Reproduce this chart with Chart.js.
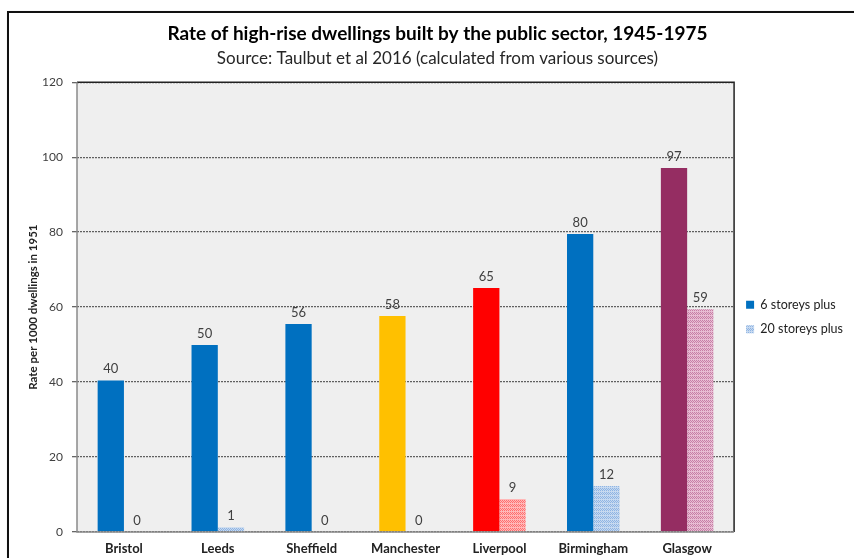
<!DOCTYPE html>
<html>
<head>
<meta charset="utf-8">
<script src="https://cdn.jsdelivr.net/npm/chart.js@4.4.0/dist/chart.umd.min.js"></script>
<style>
  html, body { margin: 0; padding: 0; background: #fff; }
  #wrap { position: relative; width: 854px; height: 558px; overflow: hidden; }
  #frame { position: absolute; left: 7px; top: 11px; width: 900px; height: 600px;
           border: 2px solid #111; box-shadow: 1px 1px 2px rgba(0,0,0,0.35); }
  #chart { position: absolute; left: 0; top: 0; }
</style>
</head>
<body>
<div id="wrap">
  <div id="frame"></div>
  <canvas id="chart" width="854" height="558"></canvas>
</div>
<script>
const cities = ['Bristol', 'Leeds', 'Sheffield', 'Manchester', 'Liverpool', 'Birmingham', 'Glasgow'];
const sixStoreys = [40.4, 49.9, 55.5, 57.6, 65.1, 79.5, 97.1];
const twentyStoreys = [0, 1.3, 0, 0, 8.8, 12.3, 59.4];
const yTicks = [0, 20, 40, 60, 80, 100, 120];

const solidColours = ['#0070c0', '#0070c0', '#0070c0', '#ffc000', '#ff0000', '#0070c0', '#952d62'];
const hatchColours = [
    ['#c6d9f0', '#8fb4e3'],
    ['#c6d9f0', '#8fb4e3'],
    ['#c6d9f0', '#8fb4e3'],
    ['#ffe699', '#ffcc33'],
    ['#ffb8b8', '#ff6f6f'],
    ['#c6d9f0', '#8fb4e3'],
    ['#e8bcd3', '#c77fa6']
];

function makeHatch(base, dot) {
    const c = document.createElement('canvas');
    c.width = 4;
    c.height = 4;
    const g = c.getContext('2d');
    g.fillStyle = base;
    g.fillRect(0, 0, 4, 4);
    g.fillStyle = dot;
    g.fillRect(0, 0, 1, 1);
    g.fillRect(2, 0, 1, 1);
    g.fillRect(1, 1, 1, 1);
    g.fillRect(3, 1, 1, 1);
    g.fillRect(0, 2, 1, 1);
    g.fillRect(2, 2, 1, 1);
    return g.createPattern(c, 'repeat');
}

const FONT = 'Lato, "Open Sans", sans-serif';

// plot area background and frame, like the spreadsheet original
const plotArea = {
    id: 'plotArea',
    beforeDraw(chart) {
        const { ctx, chartArea: a } = chart;
        ctx.save();
        ctx.fillStyle = '#efefef';
        ctx.fillRect(a.left, a.top, a.right - a.left, a.bottom - a.top);
        ctx.restore();
    },
    afterDraw(chart) {
        const { ctx, chartArea: a } = chart;
        ctx.save();
        ctx.lineWidth = 1.5;
        ctx.strokeStyle = '#222';
        ctx.beginPath();
        ctx.moveTo(a.left, a.top);
        ctx.lineTo(a.right, a.top);
        ctx.lineTo(a.right, a.bottom);
        ctx.stroke();
        ctx.strokeStyle = '#8a8a8a';
        ctx.beginPath();
        ctx.moveTo(a.left, a.top);
        ctx.lineTo(a.left, a.bottom);
        ctx.lineTo(a.right, a.bottom);
        ctx.stroke();
        ctx.restore();
    }
};

// value labels above each bar
const valueLabels = {
    id: 'valueLabels',
    afterDatasetsDraw(chart) {
        const ctx = chart.ctx;
        ctx.save();
        ctx.font = '13px ' + FONT;
        ctx.fillStyle = '#404040';
        ctx.textAlign = 'center';
        ctx.textBaseline = 'bottom';
        chart.data.datasets.forEach((ds, i) => {
            chart.getDatasetMeta(i).data.forEach((bar, j) => {
                ctx.fillText(Math.round(ds.data[j]), bar.x, bar.y - 5);
            });
        });
        ctx.restore();
    }
};

new Chart(document.getElementById('chart').getContext('2d'), {
    type: 'bar',
    data: {
        labels: cities,
        datasets: [{
            label: '6 storeys plus',
            data: sixStoreys,
            backgroundColor: solidColours,
            borderWidth: 0
        }, {
            label: '20 storeys plus',
            data: twentyStoreys,
            backgroundColor: hatchColours.map(c => makeHatch(c[0], c[1])),
            borderWidth: 0
        }]
    },
    options: {
        responsive: false,
        animation: false,
        layout: { padding: { left: 22, right: 1, top: 0, bottom: 1 } },
        barPercentage: 1,
        categoryPercentage: 0.56,
        plugins: {
            title: {
                display: true,
                text: 'Rate of high-rise dwellings built by the public sector, 1945-1975',
                color: '#000',
                font: { family: FONT, size: 19, weight: 'bold' },
                padding: { top: 22, bottom: 4 }
            },
            subtitle: {
                display: true,
                text: 'Source: Taulbut et al 2016 (calculated from various sources)',
                color: '#262626',
                font: { family: FONT, size: 17 },
                padding: { top: 0, bottom: 13 }
            },
            legend: {
                position: 'right',
                fullSize: false,
                title: {
                    display: true,
                    text: ' ',
                    font: { size: 10 },
                    padding: 4
                },
                labels: {
                    boxWidth: 8,
                    boxHeight: 8,
                    padding: 12,
                    color: '#222',
                    font: { family: FONT, size: 12.5 }
                }
            },
            tooltip: { enabled: false }
        },
        scales: {
            x: {
                grid: { display: false, drawTicks: false },
                border: { display: false },
                afterFit(axis) { axis.height = 25; },
                ticks: {
                    color: '#222',
                    maxRotation: 0,
                    font: { family: FONT, size: 13, weight: 'bold' },
                    padding: 9
                }
            },
            y: {
                min: 0,
                max: 120,
                afterBuildTicks(axis) {
                    axis.ticks = yTicks.map(v => ({ value: v }));
                },
                afterFit(axis) { axis.width = 55; },
                grid: {
                    color: '#606060',
                    lineWidth: 1.3,
                    tickLength: 5,
                    drawTicks: true,
                    tickColor: '#666'
                },
                border: { display: false, dash: [2, 1] },
                ticks: {
                    color: '#404040',
                    font: { family: FONT, size: 12 },
                    padding: 9
                },
                title: {
                    display: true,
                    text: 'Rate per 1000 dwellings in 1951',
                    color: '#222',
                    font: { family: FONT, size: 11.5, weight: 'bold' },
                    padding: { top: 4, bottom: 3 }
                }
            }
        }
    },
    plugins: [plotArea, valueLabels]
});
</script>
</body>
</html>
